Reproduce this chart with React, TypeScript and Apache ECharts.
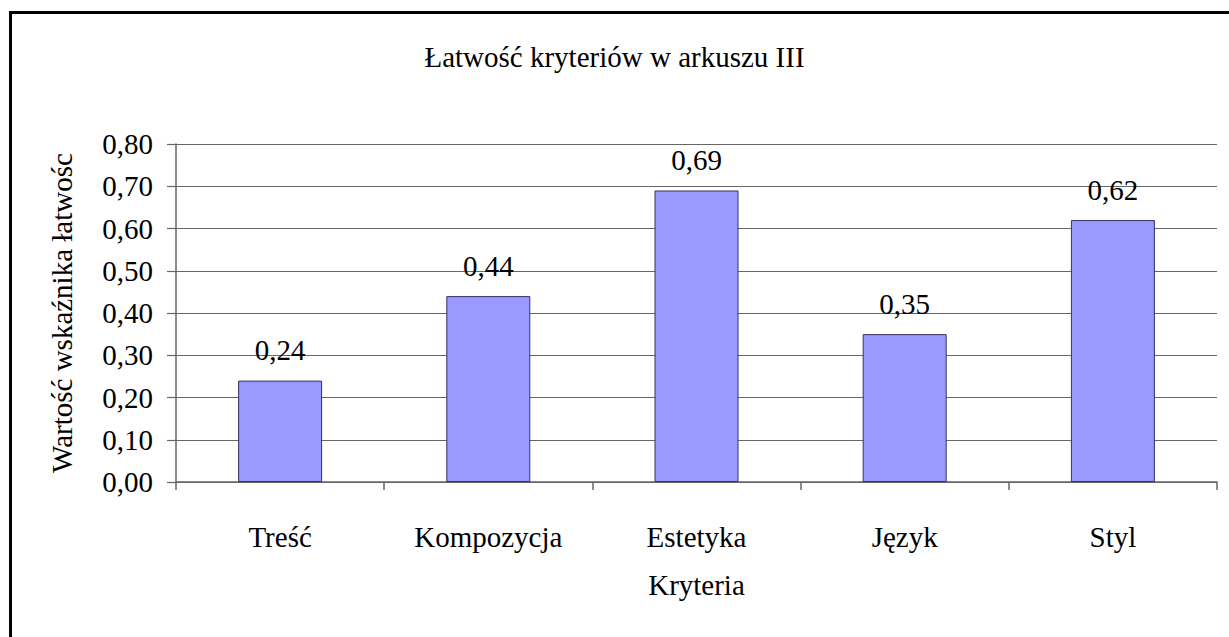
import React, { useEffect, useRef } from "react";
import * as echarts from "echarts";

const categories = ["Treść", "Kompozycja", "Estetyka", "Język", "Styl"];
const values = [0.24, 0.44, 0.69, 0.35, 0.62];
const yTicks = [0, 0.1, 0.2, 0.3, 0.4, 0.5, 0.6, 0.7, 0.8];
const titleText = "Łatwość kryteriów w arkuszu III";
const xName = "Kryteria";
const yName = "Wartość wskaźnika łatwośc";

const FONT = "serif";
const fmt = (v: number) => v.toFixed(2).replace(".", ",");

export default function App() {
  const ref = useRef<HTMLDivElement>(null);
  useEffect(() => {
    if (!ref.current) return;
    const chart = echarts.init(ref.current, undefined, { renderer: "svg" });
    chart.setOption({
      animation: false,
      backgroundColor: "#ffffff",
      textStyle: { fontFamily: FONT },
      title: {
        text: titleText,
        left: "center",
        top: 37,
        textStyle: { fontFamily: FONT, fontSize: 29, fontWeight: "normal", color: "#000" },
      },
      graphic: [
        { type: "line", shape: { x1: 9, y1: 12.5, x2: 1229, y2: 12.5 }, style: { stroke: "#000", lineWidth: 3 } },
        { type: "line", shape: { x1: 10.5, y1: 11, x2: 10.5, y2: 637 }, style: { stroke: "#000", lineWidth: 3 } },
      ],
      grid: { left: 176, right: 12, top: 144, bottom: 155, containLabel: false },
      xAxis: {
        type: "category",
        data: categories,
        name: xName,
        nameLocation: "middle",
        nameGap: 88,
        nameTextStyle: { fontFamily: FONT, fontSize: 29, color: "#000" },
        axisLine: { lineStyle: { color: "#666666", width: 1.5 } },
        axisTick: { show: true, length: 8, lineStyle: { color: "#666666", width: 1.5 } },
        axisLabel: { fontFamily: FONT, fontSize: 29, color: "#000", margin: 40 },
      },
      yAxis: {
        type: "value",
        min: 0,
        max: 0.8,
        interval: 0.1,
        name: yName,
        nameLocation: "middle",
        nameGap: 100,
        nameRotate: 90,
        nameTextStyle: { fontFamily: FONT, fontSize: 29, color: "#000" },
        axisLine: { show: true, lineStyle: { color: "#666666", width: 1.5 } },
        axisTick: { show: true, length: 9, lineStyle: { color: "#666666", width: 1.2 } },
        splitLine: { show: true, lineStyle: { color: "#666666", width: 1.2 } },
        axisLabel: {
          fontFamily: FONT,
          fontSize: 29,
          color: "#000",
          margin: 23,
          formatter: (v: number) => (yTicks.some((t) => Math.abs(t - v) < 1e-9) ? fmt(v) : ""),
        },
      },
      series: [
        {
          type: "bar",
          data: values,
          barWidth: 84,
          itemStyle: { color: "#9999ff", borderColor: "#333366", borderWidth: 1 },
          label: {
            show: true,
            position: "top",
            distance: 16,
            fontFamily: FONT,
            fontSize: 29,
            color: "#000",
            formatter: (p: any) => fmt(p.value),
          },
        },
      ],
    });
    return () => chart.dispose();
  }, []);
  return <div ref={ref} style={{ position: "fixed", left: 0, top: 0, width: 1229, height: 637 }} />;
}
